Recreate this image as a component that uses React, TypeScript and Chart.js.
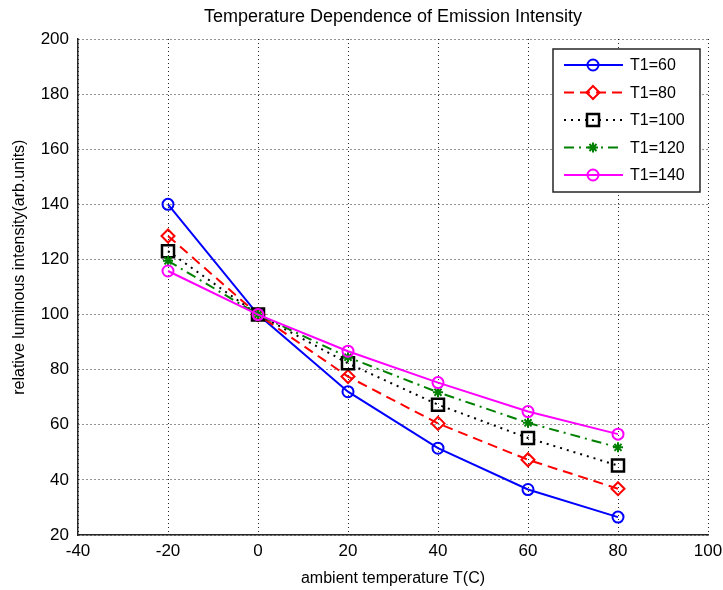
import React, { useEffect, useRef } from 'react';
import { Chart, registerables } from 'chart.js';
import { drawPoint } from 'chart.js/helpers';

Chart.register(...registerables);

// Ambient temperature (°C) at which each curve was sampled
const temperatures = [-20, 0, 20, 40, 60, 80];

// Relative luminous intensity for each T1 setting
const seriesLabels = ['T1=60', 'T1=80', 'T1=100', 'T1=120', 'T1=140'];
const t1At60 = [140, 100, 72, 51.5, 36.5, 26.5];
const t1At80 = [128.5, 100, 77.5, 60.5, 47.3, 36.8];
const t1At100 = [123, 100, 82.3, 67.3, 55.2, 45.2];
const t1At120 = [119.5, 100, 84.5, 71.8, 60.7, 51.8];
const t1At140 = [115.8, 100, 86.7, 75.3, 64.8, 56.6];
const seriesValues = [t1At60, t1At80, t1At100, t1At120, t1At140];

const xTicks = [-40, -20, 0, 20, 40, 60, 80, 100];
const yTicks = [20, 40, 60, 80, 100, 120, 140, 160, 180, 200];

const chartTitle = 'Temperature Dependence of Emission Intensity';
const xTitle = 'ambient temperature T(C)';
const yTitle = 'relative luminous intensity(arb.units)';

const FONT = '"Liberation Sans", Arial, Helvetica, sans-serif';

// Line / marker look for each series
const seriesStyles = [
  { color: '#0000FF', dash: [] as number[], marker: 'circle', radius: 5.5, markerWidth: 2 },
  { color: '#FF0000', dash: [10, 6], marker: 'rectRot', radius: 6.5, markerWidth: 2 },
  { color: '#000000', dash: [2, 5], marker: 'rect', radius: 8.5, markerWidth: 2.5 },
  { color: '#008000', dash: [10, 5, 2, 5], marker: 'star', radius: 5, markerWidth: 2 },
  { color: '#FF00FF', dash: [] as number[], marker: 'circle', radius: 5.5, markerWidth: 2 },
];

// Title, vertical axis caption and a boxed legend in the upper-right corner
const figureDecor = {
  id: 'figureDecor',
  afterDraw(chart: any) {
    const { ctx, chartArea } = chart;
    ctx.save();
    ctx.fillStyle = '#000';
    ctx.font = `18px ${FONT}`;
    ctx.textAlign = 'center';
    ctx.textBaseline = 'middle';
    ctx.fillText(chartTitle, (chartArea.left + chartArea.right) / 2, 17);

    ctx.save();
    ctx.font = `16px ${FONT}`;
    ctx.translate(20, chartArea.top + (chartArea.bottom - chartArea.top) * 0.46);
    ctx.rotate(-Math.PI / 2);
    ctx.fillText(yTitle, 0, 0);
    ctx.restore();

    const boxW = 147;
    const boxH = 143;
    const bx = chartArea.right - 8 - boxW;
    const by = chartArea.top + 10;
    ctx.fillStyle = '#fff';
    ctx.fillRect(bx, by, boxW, boxH);
    ctx.strokeStyle = '#262626';
    ctx.lineWidth = 1.5;
    ctx.setLineDash([]);
    ctx.strokeRect(bx, by, boxW, boxH);

    chart.data.datasets.forEach((ds: any, i: number) => {
      const y = by + 16 + i * 27.5;
      ctx.save();
      ctx.strokeStyle = ds.borderColor;
      ctx.lineWidth = ds.borderWidth;
      ctx.setLineDash(ds.borderDash || []);
      ctx.beginPath();
      ctx.moveTo(bx + 11, y);
      ctx.lineTo(bx + 70, y);
      ctx.stroke();
      ctx.restore();

      ctx.save();
      ctx.setLineDash([]);
      ctx.strokeStyle = ds.pointBorderColor;
      ctx.fillStyle = 'rgba(0,0,0,0)';
      ctx.lineWidth = ds.pointBorderWidth;
      drawPoint(
        ctx,
        { pointStyle: ds.pointStyle, rotation: 0, radius: ds.pointRadius, borderWidth: ds.pointBorderWidth } as any,
        bx + 40,
        y
      );
      ctx.restore();

      ctx.fillStyle = '#000';
      ctx.font = `16px ${FONT}`;
      ctx.textAlign = 'left';
      ctx.textBaseline = 'middle';
      ctx.fillText(ds.label, bx + 77, y + 1);
    });
    ctx.restore();
  },
};

export default function App() {
  const canvasRef = useRef<HTMLCanvasElement>(null);

  useEffect(() => {
    if (!canvasRef.current) return;
    const datasets = seriesLabels.map((label, i) => {
      const st = seriesStyles[i];
      return {
        label,
        data: temperatures.map((t, k) => ({ x: t, y: seriesValues[i][k] })),
        borderColor: st.color,
        borderWidth: 2,
        borderDash: st.dash,
        pointStyle: st.marker,
        pointRadius: st.radius,
        pointBorderWidth: st.markerWidth,
        pointBorderColor: st.color,
        pointBackgroundColor: 'rgba(0,0,0,0)',
        tension: 0,
        fill: false,
        order: seriesLabels.length - 1 - i,
      };
    });

    const tickFont = { family: FONT, size: 17 };
    const chart = new Chart(canvasRef.current, {
      type: 'line',
      data: { datasets: datasets as any },
      plugins: [figureDecor],
      options: {
        animation: false,
        responsive: false,
        devicePixelRatio: 1,
        layout: { padding: { top: 39, right: 15, left: 0, bottom: 0 } },
        plugins: {
          legend: { display: false },
          title: { display: false },
          tooltip: { enabled: false },
        },
        scales: {
          x: {
            type: 'linear',
            min: -40,
            max: 100,
            afterBuildTicks: (s: any) => {
              s.ticks = xTicks.map((v) => ({ value: v }));
            },
            afterFit: (s: any) => {
              s.height = 55;
              s.paddingLeft = 0;
              s.paddingRight = 0;
            },
            grid: { color: 'rgba(0,0,0,0.85)', lineWidth: 1, drawTicks: false },
            border: { display: true, color: '#262626', width: 1.5, dash: [1, 3] },
            ticks: { color: '#000', font: tickFont, padding: 6, maxRotation: 0, autoSkip: false },
            title: { display: true, text: xTitle, color: '#000', font: { family: FONT, size: 16 }, padding: { top: 0, bottom: 2 } },
          },
          y: {
            type: 'linear',
            min: 20,
            max: 200,
            afterBuildTicks: (s: any) => {
              s.ticks = yTicks.map((v) => ({ value: v }));
            },
            afterFit: (s: any) => {
              s.width = 78;
            },
            grid: { color: 'rgba(0,0,0,0.85)', lineWidth: 1, drawTicks: false },
            border: { display: true, color: '#262626', width: 1.5, dash: [1, 3] },
            ticks: { color: '#000', font: tickFont, padding: 9, autoSkip: false },
          },
        },
      } as any,
    });
    return () => chart.destroy();
  }, []);

  return (
    <div style={{ position: 'absolute', left: 0, top: 0, width: 723, height: 590, background: '#fff' }}>
      <canvas ref={canvasRef} width={723} height={590} style={{ width: 723, height: 590, display: 'block' }} />
    </div>
  );
}
